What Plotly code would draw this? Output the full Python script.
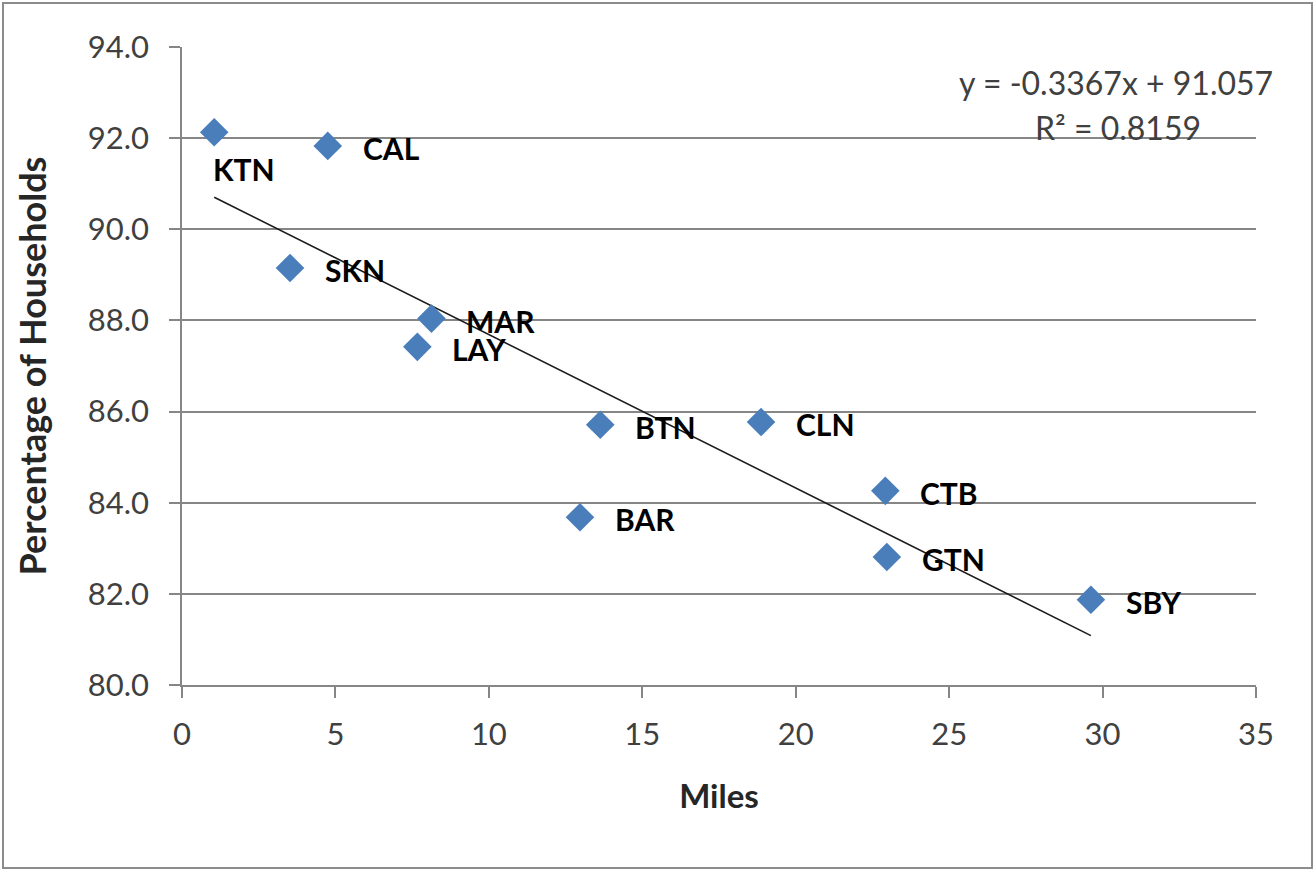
import plotly.graph_objects as go

# ---- data ----
sites = ["KTN", "CAL", "SKN", "MAR", "LAY", "BTN", "CLN", "BAR", "CTB", "GTN", "SBY"]
miles = [1.05, 4.75, 3.52, 8.13, 7.67, 13.63, 18.87, 12.97, 22.92, 22.97, 29.62]
pct_households = [92.13, 91.83, 89.15, 88.04, 87.42, 85.71, 85.77, 83.68, 84.26, 82.81, 81.87]
slope = -0.3367
intercept = 91.057
r_squared = 0.8159
x_ticks = [0, 5, 10, 15, 20, 25, 30, 35]
y_ticks = [80.0, 82.0, 84.0, 86.0, 88.0, 90.0, 92.0, 94.0]

FONT = "Lato"
W, H = 1315, 870
ML, MR, MT, MB = 182, 59, 47, 185
PW, PH = W - ML - MR, H - MT - MB

fig = go.Figure()

# trendline
x0, x1 = min(miles), max(miles)
fig.add_trace(go.Scatter(
    x=[x0, x1], y=[slope * x0 + intercept, slope * x1 + intercept],
    mode="lines", line=dict(color="#1a1a1a", width=1.6),
    hoverinfo="skip", showlegend=False))

# points
fig.add_trace(go.Scatter(
    x=miles, y=pct_households, mode="markers",
    marker=dict(symbol="diamond", size=22, color="#4A7EBB",
                line=dict(width=0)),
    showlegend=False))

# labels
for s, xv, yv in zip(sites, miles, pct_households):
    if s == "KTN":
        fig.add_annotation(x=xv, y=yv, text=s, showarrow=False,
                           xanchor="left", yanchor="middle",
                           xshift=-3, yshift=-37,
                           font=dict(family=FONT, size=30, color="#000000", weight="bold"))
    else:
        fig.add_annotation(x=xv, y=yv, text=s, showarrow=False,
                           xanchor="left", yanchor="middle",
                           xshift=33, yshift=-2,
                           font=dict(family=FONT, size=30, color="#000000", weight="bold"))

# equation (two lines)
eq_font = dict(family=FONT, size=32, color="#404040")
fig.add_annotation(
    xref="paper", yref="paper",
    x=(1116 - ML) / PW, y=1 - (83 - MT) / PH,
    text=f"y = {slope}x + {intercept}",
    showarrow=False, xanchor="center", yanchor="middle", font=eq_font)
fig.add_annotation(
    xref="paper", yref="paper",
    x=(1118 - ML) / PW, y=1 - (128 - MT) / PH,
    text=f"R² = {r_squared}",
    showarrow=False, xanchor="center", yanchor="middle", font=eq_font)

# outer border
fig.add_shape(type="rect", xref="paper", yref="paper",
              x0=(3 - ML) / PW, x1=(1312 - ML) / PW,
              y0=1 + (MT - 3) / PH, y1=-(868 - MT - PH) / PH,
              line=dict(color="#8C8C8C", width=2), fillcolor="rgba(0,0,0,0)",
              layer="below")

axis_common = dict(
    showline=True, linecolor="#868686", linewidth=1.5,
    ticks="outside", ticklen=11, tickcolor="#868686", tickwidth=1.5,
    zeroline=False,
    tickfont=dict(family=FONT, size=31, color="#404040"),
)

fig.update_xaxes(
    range=[0, 35], tickvals=x_ticks, ticktext=[str(v) for v in x_ticks],
    showgrid=False, ticklabelstandoff=10,
    title=dict(text="Miles", font=dict(family=FONT, size=33, color="#262626", weight="bold"),
               standoff=34),
    **axis_common)
fig.update_yaxes(
    range=[80, 94], tickvals=y_ticks, ticktext=[f"{v:.1f}" for v in y_ticks],
    showgrid=True, gridcolor="#868686", gridwidth=1.5, ticklabelstandoff=14,
    title=dict(text="Percentage of Households",
               font=dict(family=FONT, size=36, color="#262626", weight="bold"),
               standoff=30),
    **axis_common)

fig.update_layout(
    width=W, height=H,
    margin=dict(l=ML, r=MR, t=MT, b=MB, autoexpand=False),
    paper_bgcolor="white", plot_bgcolor="white",
    font=dict(family=FONT),
)

fig.write_html("out.html")
